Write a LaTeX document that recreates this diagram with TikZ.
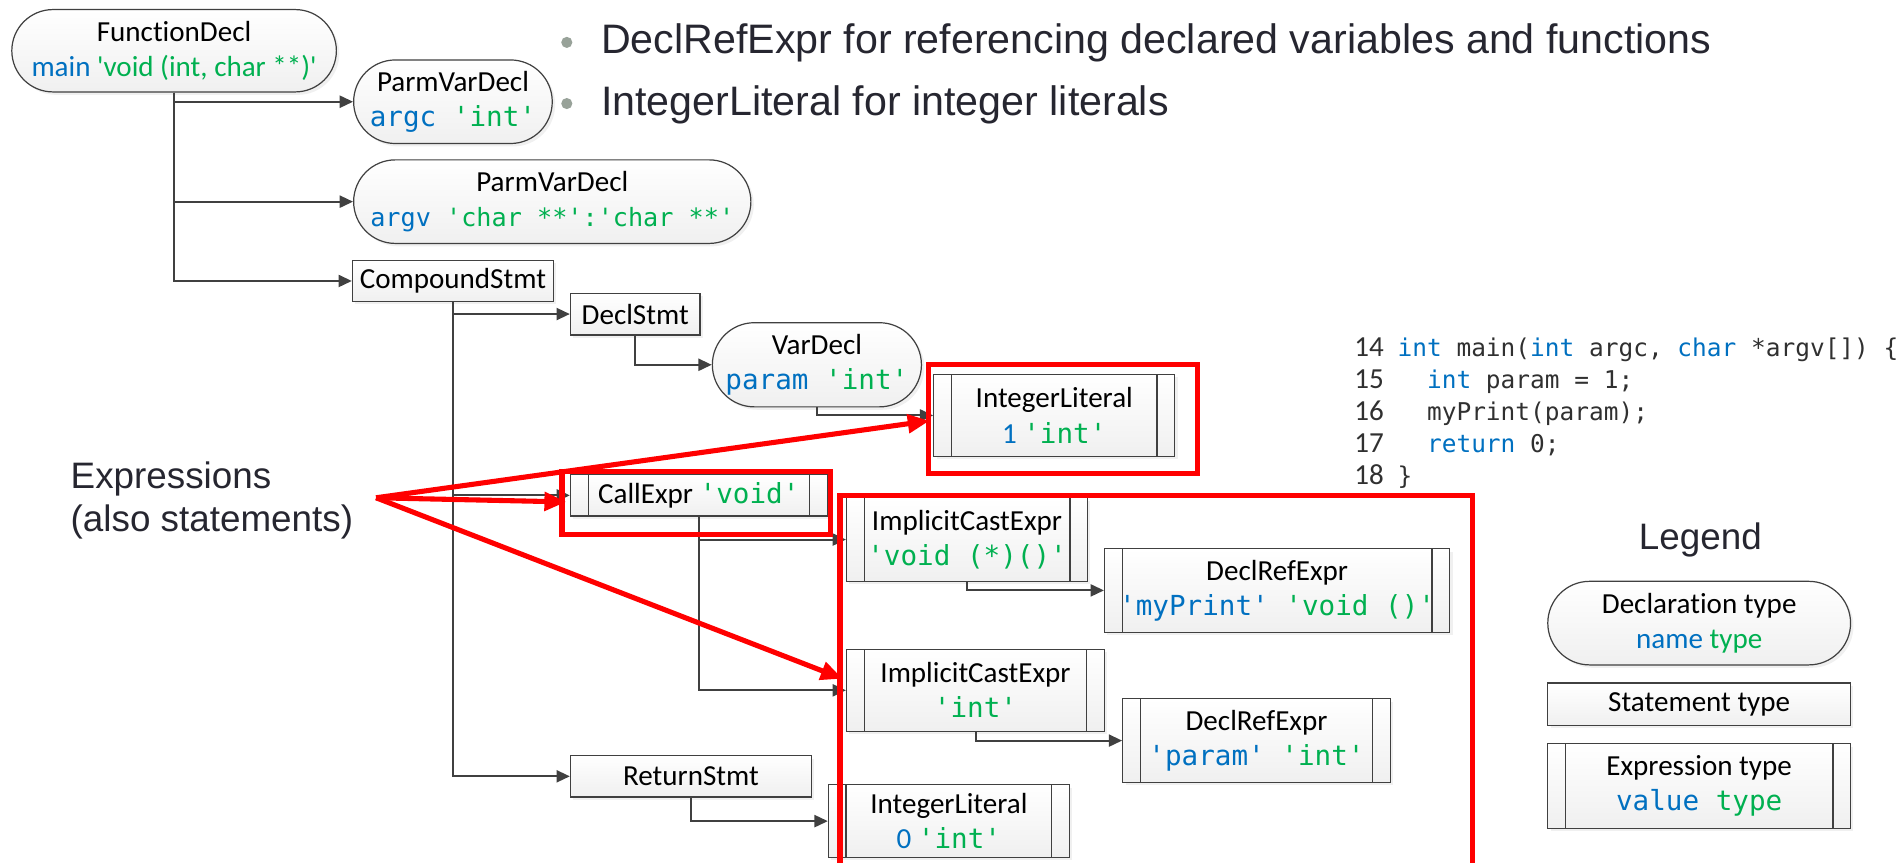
\documentclass[tikz,border=0pt]{standalone}
\usepackage{fontspec}
\setmainfont{Carlito}[Ligatures=NoCommon]
\setmonofont{DejaVu Sans Mono}
\newfontfamily\slidefont{Liberation Sans}
\usetikzlibrary{arrows.meta,shapes.misc,shadows}

\definecolor{linegray}{HTML}{404040}
\definecolor{hired}{HTML}{FF0000}
\definecolor{nameblue}{HTML}{0070C0}
\definecolor{typegreen}{HTML}{00B050}
\definecolor{slidedark}{HTML}{262630}
\definecolor{bulletgray}{HTML}{98A299}
\definecolor{codedark}{HTML}{303030}

\newcommand\nm[1]{\textcolor{nameblue}{#1}}
\newcommand\ty[1]{\textcolor{typegreen}{#1}}
\newcommand\kw[1]{\textcolor{nameblue}{#1}}
\newcommand\tq{\textquotesingle}
\newcommand\nodefont{\fontsize{12}{14.5}\selectfont}
\newcommand\mono{\ttfamily\fontsize{11.4}{14.5}\selectfont}

\begin{document}
\begin{tikzpicture}[x=0.5pt,y=-0.5pt,
    box/.style={draw=linegray,line width=0.5pt,top color=white,bottom color=black!6,
      drop shadow={shadow xshift=1.2pt,shadow yshift=-1.2pt,fill=black!40,opacity=0.15},
      inner sep=0pt,align=center,font=\nodefont},
    decl/.style={box,rounded rectangle},
    stmt/.style={box,rectangle},
    expr/.style={box,rectangle,path picture={
      \draw[linegray,line width=0.5pt]
        ([xshift=7.3pt]path picture bounding box.north west) -- ([xshift=7.3pt]path picture bounding box.south west)
        ([xshift=-7.3pt]path picture bounding box.north east) -- ([xshift=-7.3pt]path picture bounding box.south east);}},
    link/.style={draw=linegray,line width=0.8pt,-{Triangle[length=5.5pt,width=5pt]}},
    hilite/.style={draw=hired,line width=2.1pt},
    pointer/.style={hilite,-{Triangle[length=9pt,width=7.5pt]},shorten >=1.5pt},
    slide/.style={font=\slidefont\fontsize{17}{20}\selectfont,text=slidedark,inner sep=0pt},
    code/.style={anchor=base west,inner sep=0pt,font=\ttfamily\fontsize{10.1}{12}\selectfont,text=codedark},
    lineno/.style={anchor=base east,inner sep=0pt,font=\fontsize{12}{14}\selectfont,text=codedark}]
    \useasboundingbox (0,0) rectangle (1568,711.8);

    \fill[bulletgray] (468,35) circle (2.3pt);
    \node (bullet1) at (496,44) [slide,anchor=base west] {DeclRefExpr for referencing declared variables and functions};
    \fill[bulletgray] (468,85.5) circle (2.3pt);
    \node (bullet2) at (496,95) [slide,anchor=base west] {IntegerLiteral for integer literals};

    \node (fdecl) at (143.75,41.9) [decl,minimum width=134pt,minimum height=34pt] {FunctionDecl\\\nm{main} \ty{\tq void (int, char **)\tq}};
    \node (argc) at (374,84) [decl,minimum width=82pt,minimum height=34.5pt] {ParmVarDecl\\{\mono\nm{argc} \ty{'int'}}};
    \node (argv) at (456,166.5) [decl,minimum width=164pt,minimum height=34.5pt] {ParmVarDecl\\{\ttfamily\fontsize{10.4}{14.5}\selectfont\nm{argv} \ty{'char **':'char **'}}};
    \node (cmpd) at (374,232) [stmt,minimum width=83pt,minimum height=17pt] {CompoundStmt};
    \node (dstmt) at (524.5,259.3) [stmt,minimum width=53.5pt,minimum height=17.25pt] {DeclStmt};
    \node (vdecl) at (674.5,301.2) [decl,minimum width=82.5pt,minimum height=34.75pt] {VarDecl\\{\mono\nm{param} \ty{'int'}}};
    \node (lit1) at (870.5,343) [expr,minimum width=99.5pt,minimum height=34pt] {IntegerLiteral\\\nm{1} {\mono\ty{'int'}}};
    \node (call) at (577,409) [expr,minimum width=106pt,minimum height=17pt] {CallExpr {\mono\ty{'void'}}};
    \node (cast1) at (798.5,445.5) [expr,minimum width=99.5pt,minimum height=34.5pt] {ImplicitCastExpr\\{\mono\ty{'void (*)()'}}};
    \node (ref1) at (1054.5,487.5) [expr,minimum width=142.5pt,minimum height=34.5pt] {DeclRefExpr\\{\mono\nm{'myPrint'} \ty{'void ()'}}};
    \node (cast2) at (805.5,570) [expr,minimum width=106.5pt,minimum height=34pt] {ImplicitCastExpr\\{\mono\ty{'int'}}};
    \node (ref2) at (1037.5,611.5) [expr,minimum width=110.5pt,minimum height=34.5pt] {DeclRefExpr\\{\mono\nm{'param'} \ty{'int'}}};
    \node (ret) at (570.5,641) [stmt,minimum width=99.5pt,minimum height=17pt] {ReturnStmt};
    \node (lit0) at (783.5,678) [expr,minimum width=99.5pt,minimum height=30pt] {IntegerLiteral\\\nm{0} {\mono\ty{'int'}}};

    \draw[link] (fdecl.south) |- (argc.west);
    \draw[link] (fdecl.south) |- (argv.west);
    \draw[link] (fdecl.south) |- (cmpd.west);
    \draw[link] (cmpd.south) |- (dstmt.west);
    \draw[link] (cmpd.south) |- (call.west);
    \draw[link] (cmpd.south) |- (ret.west);
    \draw[link] (dstmt.south) |- (vdecl.west);
    \draw[link] (vdecl.south) |- (lit1.west);
    \draw[link] (call.south) |- (cast1.west);
    \draw[link] (call.south) |- (cast2.west);
    \draw[link] (cast1.south) |- (ref1.west);
    \draw[link] (cast2.south) |- (ref2.west);
    \draw[link] (ret.south) |- (lit0.west);

    \node (ln14) at (1143,294) [lineno] {14};
    \node (code14) at (1153.6,294) [code] {\kw{int} main(\kw{int} argc, \kw{char} *argv[]) \{};
    \node (ln15) at (1143,320.5) [lineno] {15};
    \node (code15) at (1153.6,320.5) [code] {\ \ \kw{int} param = 1;};
    \node (ln16) at (1143,347) [lineno] {16};
    \node (code16) at (1153.6,347) [code] {\ \ myPrint(param);};
    \node (ln17) at (1143,373.5) [lineno] {17};
    \node (code17) at (1153.6,373.5) [code] {\ \ \kw{return} 0;};
    \node (ln18) at (1143,400) [lineno] {18};
    \node (code18) at (1153.6,400) [code] {\}};

    \node (lgtitle) at (1404,453.5) [slide,anchor=base,font=\slidefont\fontsize{15.2}{18}\selectfont] {Legend};
    \node (lgdecl) at (1403,514.5) [decl,minimum width=125pt,minimum height=34.5pt] {Declaration type\\\nm{name} \ty{type}};
    \node (lgstmt) at (1403,581.5) [stmt,minimum width=125pt,minimum height=17.5pt] {Statement type};
    \node (lgexpr) at (1403,649) [expr,minimum width=125pt,minimum height=35pt] {Expression type\\{\mono\nm{value} \ty{type}}};

    \node (exprs) at (58,413.2) [slide,anchor=west,align=left,font=\slidefont\fontsize{15.2}{17.9}\selectfont] {Expressions\\(also statements)};
    \coordinate (apex) at (310.5,411);

    \draw[hilite] (767,301) rectangle (989,391);
    \draw[hilite] (464,389) rectangle (686,441);
    \draw[hilite] (693.6,725) |- (1215.5,409) -- (1215.5,725);
    \draw[pointer] (apex) -- ([yshift=-2pt]lit1.west);
    \draw[pointer] (apex) -- ([yshift=-2.75pt]call.west);
    \draw[pointer] (apex) -- ([yshift=4.25pt]cast2.west);
\end{tikzpicture}
\end{document}
